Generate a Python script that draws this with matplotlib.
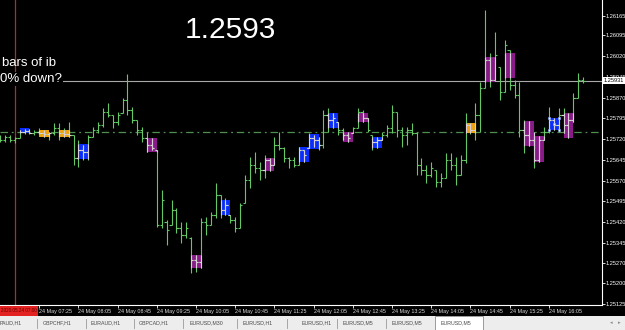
import matplotlib
matplotlib.use('Agg')
import matplotlib.pyplot as plt
from matplotlib.patches import Rectangle
from matplotlib.lines import Line2D
import matplotlib.ticker as ticker

# EURUSD M5 bars, 24 May, first bar 06:45
first_bar = '06:45'
bar_minutes = 5

opens = [1.25723, 1.25716, 1.25727, 1.25716, 1.25723, 1.25745, 1.25749, 1.25742, 1.25745, 1.25742,
         1.25738, 1.25742, 1.25760, 1.25742, 1.25738, 1.25734, 1.25651, 1.25680, 1.25673, 1.25727,
         1.25752, 1.25770, 1.25817, 1.25807, 1.25781, 1.25814, 1.25861, 1.25825, 1.25789, 1.25752,
         1.25723, 1.25698, 1.25680, 1.25408, 1.25419, 1.25408, 1.25463, 1.25398, 1.25372, 1.25361,
         1.25282, 1.25274, 1.25419, 1.25408, 1.25445, 1.25517, 1.25463, 1.25445, 1.25427, 1.25398,
         1.25488, 1.25571, 1.25626, 1.25615, 1.25608, 1.25644, 1.25626, 1.25698, 1.25687, 1.25651,
         1.25644, 1.25626, 1.25680, 1.25687, 1.25723, 1.25716, 1.25698, 1.25807, 1.25789, 1.25781,
         1.25752, 1.25734, 1.25742, 1.25760, 1.25817, 1.25796, 1.25734, 1.25709, 1.25716, 1.25734,
         1.25760, 1.25817, 1.25752, 1.25734, 1.25752, 1.25742, 1.25626, 1.25608, 1.25589, 1.25608,
         1.25564, 1.25579, 1.25644, 1.25626, 1.25589, 1.25644, 1.25770, 1.25752, 1.25807, 1.25904,
         1.26006, 1.25933, 1.25980, 1.25890, 1.26042, 1.25915, 1.25879, 1.25752, 1.25734, 1.25716,
         1.25644, 1.25716, 1.25745, 1.25789, 1.25770, 1.25807, 1.25770, 1.25789, 1.25868, 1.25933]
highs = [1.25734, 1.25734, 1.25734, 1.25727, 1.25752, 1.25756, 1.25756, 1.25752, 1.25760, 1.25752,
         1.25745, 1.25778, 1.25778, 1.25760, 1.25781, 1.25734, 1.25716, 1.25698, 1.25734, 1.25763,
         1.25781, 1.25832, 1.25850, 1.25807, 1.25817, 1.25868, 1.25955, 1.25836, 1.25789, 1.25763,
         1.25745, 1.25723, 1.25680, 1.25535, 1.25427, 1.25499, 1.25470, 1.25419, 1.25419, 1.25365,
         1.25300, 1.25434, 1.25437, 1.25455, 1.25561, 1.25517, 1.25506, 1.25445, 1.25437, 1.25488,
         1.25589, 1.25655, 1.25673, 1.25636, 1.25662, 1.25651, 1.25727, 1.25745, 1.25691, 1.25655,
         1.25655, 1.25691, 1.25680, 1.25742, 1.25734, 1.25727, 1.25825, 1.25832, 1.25814, 1.25781,
         1.25760, 1.25745, 1.25763, 1.25832, 1.25825, 1.25796, 1.25734, 1.25727, 1.25745, 1.25770,
         1.25843, 1.25817, 1.25763, 1.25763, 1.25778, 1.25745, 1.25651, 1.25626, 1.25636, 1.25608,
         1.25597, 1.25669, 1.25669, 1.25655, 1.25662, 1.25814, 1.25778, 1.25850, 1.25926, 1.26187,
         1.26031, 1.26107, 1.25980, 1.26078, 1.26042, 1.25933, 1.25926, 1.25789, 1.25785, 1.25745,
         1.25731, 1.25763, 1.25836, 1.25796, 1.25832, 1.25832, 1.25814, 1.25886, 1.25959, 1.25944]
lows = [1.25709, 1.25709, 1.25709, 1.25705, 1.25723, 1.25738, 1.25738, 1.25734, 1.25738, 1.25727,
        1.25716, 1.25734, 1.25716, 1.25727, 1.25727, 1.25626, 1.25618, 1.25644, 1.25644, 1.25727,
        1.25742, 1.25763, 1.25799, 1.25760, 1.25770, 1.25814, 1.25807, 1.25778, 1.25734, 1.25709,
        1.25673, 1.25680, 1.25401, 1.25398, 1.25336, 1.25408, 1.25380, 1.25343, 1.25361, 1.25234,
        1.25238, 1.25253, 1.25372, 1.25408, 1.25434, 1.25434, 1.25445, 1.25416, 1.25383, 1.25398,
        1.25488, 1.25542, 1.25597, 1.25571, 1.25579, 1.25604, 1.25626, 1.25680, 1.25636, 1.25615,
        1.25618, 1.25626, 1.25636, 1.25687, 1.25691, 1.25680, 1.25687, 1.25745, 1.25760, 1.25734,
        1.25716, 1.25709, 1.25742, 1.25760, 1.25781, 1.25745, 1.25680, 1.25687, 1.25716, 1.25727,
        1.25742, 1.25727, 1.25691, 1.25698, 1.25734, 1.25589, 1.25589, 1.25561, 1.25582, 1.25546,
        1.25546, 1.25579, 1.25608, 1.25553, 1.25589, 1.25633, 1.25738, 1.25716, 1.25745, 1.25904,
        1.25908, 1.25933, 1.25861, 1.25890, 1.25897, 1.25868, 1.25727, 1.25669, 1.25694, 1.25615,
        1.25636, 1.25716, 1.25742, 1.25752, 1.25745, 1.25742, 1.25723, 1.25781, 1.25868, 1.25922]
closes = [1.25716, 1.25727, 1.25716, 1.25723, 1.25745, 1.25749, 1.25742, 1.25745, 1.25742, 1.25738,
          1.25742, 1.25760, 1.25742, 1.25738, 1.25734, 1.25651, 1.25680, 1.25673, 1.25727, 1.25752,
          1.25770, 1.25817, 1.25807, 1.25781, 1.25807, 1.25861, 1.25825, 1.25789, 1.25752, 1.25723,
          1.25698, 1.25687, 1.25408, 1.25499, 1.25390, 1.25463, 1.25398, 1.25372, 1.25398, 1.25282,
          1.25274, 1.25419, 1.25408, 1.25445, 1.25517, 1.25463, 1.25481, 1.25427, 1.25398, 1.25481,
          1.25571, 1.25626, 1.25615, 1.25608, 1.25644, 1.25626, 1.25698, 1.25687, 1.25651, 1.25644,
          1.25626, 1.25680, 1.25662, 1.25723, 1.25716, 1.25698, 1.25807, 1.25789, 1.25796, 1.25752,
          1.25734, 1.25723, 1.25760, 1.25817, 1.25796, 1.25752, 1.25709, 1.25716, 1.25734, 1.25760,
          1.25817, 1.25752, 1.25734, 1.25752, 1.25742, 1.25626, 1.25608, 1.25589, 1.25615, 1.25564,
          1.25579, 1.25644, 1.25626, 1.25589, 1.25644, 1.25770, 1.25752, 1.25807, 1.25904, 1.26006,
          1.25933, 1.26024, 1.25890, 1.26060, 1.25915, 1.25879, 1.25752, 1.25734, 1.25716, 1.25644,
          1.25716, 1.25745, 1.25789, 1.25770, 1.25807, 1.25770, 1.25789, 1.25868, 1.25933, 1.25931]

# inside-bar rectangles: first bar, last bar, top, bottom, colour name
box_start = [4, 8, 12, 16, 30, 39, 45, 54, 61, 63, 67, 70, 73, 76, 95, 99, 103, 107, 109, 112, 115]
box_end = [6, 10, 14, 18, 32, 41, 47, 56, 63, 65, 69, 72, 75, 78, 97, 101, 105, 109, 111, 114, 117]
box_top = [1.25760, 1.25752, 1.25752, 1.25702, 1.25723, 1.25300, 1.25499, 1.25651, 1.25691, 1.25738,
           1.25814, 1.25745, 1.25814, 1.25727, 1.25778, 1.26017, 1.26031, 1.25785, 1.25731, 1.25796,
           1.25814]
box_bottom = [1.25742, 1.25727, 1.25727, 1.25647, 1.25673, 1.25253, 1.25445, 1.25604, 1.25636, 1.25684,
              1.25760, 1.25709, 1.25781, 1.25687, 1.25742, 1.25926, 1.25941, 1.25694, 1.25636, 1.25752,
              1.25723]
box_kind = ['blue', 'orange', 'orange', 'blue', 'purple', 'purple', 'blue', 'purple', 'blue', 'blue',
            'blue', 'purple', 'purple', 'blue', 'orange', 'purple', 'purple', 'purple', 'purple', 'blue',
            'purple']
selected_box = 19

bid = 1.25931
level = 1.25745
session_bar = 3   # 07:00

price_ticks = [1.26165, 1.26095, 1.26020, 1.25945, 1.25870, 1.25795, 1.25720, 1.25645,
               1.25570, 1.25495, 1.25420, 1.25345, 1.25270, 1.25200, 1.25125]
time_labels = ['24 May 07:25', '24 May 08:05', '24 May 08:45', '24 May 09:25', '24 May 10:05',
               '24 May 10:45', '24 May 11:25', '24 May 12:05', '24 May 12:45', '24 May 13:25',
               '24 May 14:05', '24 May 14:45', '24 May 15:25', '24 May 16:05']
tabs = ['PAUD,H1', 'GBPCHF,H1', 'EURAUD,H1', 'GBPCAD,H1', 'EURUSD,M30', 'EURUSD,H1',
        'EURUSD,H1', 'EURUSD,M5', 'EURUSD,M5', 'EURUSD,M5']

colors = {'blue': '#0a2cff', 'purple': '#8a1a8a', 'orange': '#f2a20c'}
bar_green = '#64c864'
inner = '#d9cfd9'
FONT = 'Liberation Sans'


def to_min(t):
    h, m = t.split(':')
    return int(h) * 60 + int(m)


fig = plt.figure(figsize=(6.25, 3.3), dpi=100, facecolor='black')
ax = fig.add_axes([0, 25 / 330, 602 / 625, 305 / 330], facecolor='black')

xs = list(range(len(highs)))
ax.vlines(xs, lows, highs, color=bar_green, lw=0.8, zorder=3)
ax.hlines(opens, [k - 0.45 for k in xs], xs, color=bar_green, lw=0.8, zorder=3)
ax.hlines(closes, xs, [k + 0.45 for k in xs], color=bar_green, lw=0.8, zorder=3)

for i, (s, e, top, bot, kind) in enumerate(zip(box_start, box_end, box_top, box_bottom, box_kind)):
    ax.add_patch(Rectangle((s, bot), e - s, top - bot, facecolor=colors[kind],
                           edgecolor='none', zorder=2))
    # bars show up pale where they cross the filled box
    for k in range(s, e + 1):
        hi = min(highs[k], top)
        lo = max(lows[k], bot)
        if hi > lo:
            ax.vlines(k, lo, hi, color=inner, lw=0.8, zorder=4)
        if bot <= opens[k] <= top:
            ax.hlines(opens[k], k - 0.45, k, color=inner, lw=0.8, zorder=4)
        if bot <= closes[k] <= top:
            ax.hlines(closes[k], k, k + 0.45, color=inner, lw=0.8, zorder=4)
    if i == selected_box:
        mx = [s, e, s, e, (s + e) / 2]
        my = [top, top, bot, bot, (top + bot) / 2]
        ax.plot(mx, my, 's', ms=1.8, color='white', mec='#7fa0ff', mew=0.4, zorder=5)

ax.axhline(bid, color='#a8a8a8', lw=0.8, zorder=1.5)
ax.axhline(level, color='#4f8f4f', lw=0.9, ls=(0, (6, 3, 1.5, 3)), zorder=1.5)
ax.axvline(session_bar, color='#b52a2a', lw=0.9, zorder=1.5)

ax.set_xlim(-0.02, 122.84)
ax.set_ylim(1.251197, 1.262229)

for s in ['top', 'left']:
    ax.spines[s].set_visible(False)
for s in ['right', 'bottom']:
    ax.spines[s].set_color('white')
    ax.spines[s].set_linewidth(0.8)

start = to_min(first_bar)
tick_idx = [(to_min(t.split()[-1]) - start) / bar_minutes for t in time_labels]
ax.set_xticks(tick_idx)
ax.set_xticklabels(time_labels, ha='left', family=FONT)
ax.tick_params(axis='x', direction='out', length=2.5, width=0.6, color='white',
               labelcolor='#dcdcdc', labelsize=3.9, pad=0.6)

ax.yaxis.tick_right()
ax.set_yticks(price_ticks)
ax.yaxis.set_major_formatter(ticker.FormatStrFormatter('%.5f'))
for lab in ax.get_yticklabels():
    lab.set_family(FONT)
ax.tick_params(axis='y', direction='out', length=2, width=0.6, color='white',
               labelcolor='white', labelsize=4.1, pad=0.8)

ax.text(1.003, bid, f'{bid:.5f}', transform=ax.get_yaxis_transform(), fontsize=4.1,
        family=FONT, color='black', va='center', ha='left', clip_on=False, zorder=10,
        bbox=dict(facecolor='white', edgecolor='none', pad=0.8))

# on-chart labels
fig.text(230 / 625, 1 - 30 / 330, '1.2593', fontsize=21.5, family=FONT, color='white',
         ha='center', va='center')
fig.text(2 / 625, 1 - 63 / 330, 'bars of ib', fontsize=9.5, family=FONT, color='white',
         ha='left', va='center')
fig.text(0, 1 - 79 / 330, '0% down?', fontsize=9.5, family=FONT, color='white',
         ha='left', va='center', bbox=dict(facecolor='black', edgecolor='none', pad=0.5))

# red crosshair-time label at the left of the time scale
fig.add_artist(Rectangle((0, 14 / 330), 38 / 625, 10 / 330, transform=fig.transFigure,
                         facecolor='#e32222', edgecolor='none'))
fig.text(1 / 625, 19 / 330, '2020.05.24 07:00', fontsize=3.3, family=FONT, color='#6a0000',
         ha='left', va='center')

# tab strip
fig.add_artist(Rectangle((0, 0), 1, 14 / 330, transform=fig.transFigure,
                         facecolor='#ededed', edgecolor='none'))
fig.add_artist(Rectangle((435 / 625, 0), 48 / 625, 14 / 330, transform=fig.transFigure,
                         facecolor='white', edgecolor='#8c8c8c', lw=0.6))
tab_x = [0, 43, 91, 139, 190, 243, 302, 343, 392, 441]
sep_x = [37, 86, 134, 183, 237, 287, 337, 386]
for name, tx in zip(tabs, tab_x):
    fig.text(tx / 625, 7 / 330, name, fontsize=3.8, family=FONT, color='#4a4a4a',
             ha='left', va='center')
for sx in sep_x:
    fig.add_artist(Line2D([sx / 625, sx / 625], [2.5 / 330, 11.5 / 330],
                          transform=fig.transFigure, color='#9a9a9a', lw=0.6))
fig.text(611 / 625, 7 / 330, '◂', fontsize=3.8, color='#8a8a8a', ha='center', va='center')
fig.text(619 / 625, 7 / 330, '▸', fontsize=3.8, color='#8a8a8a', ha='center', va='center')

fig.savefig('out.png', dpi=100, facecolor='black')
